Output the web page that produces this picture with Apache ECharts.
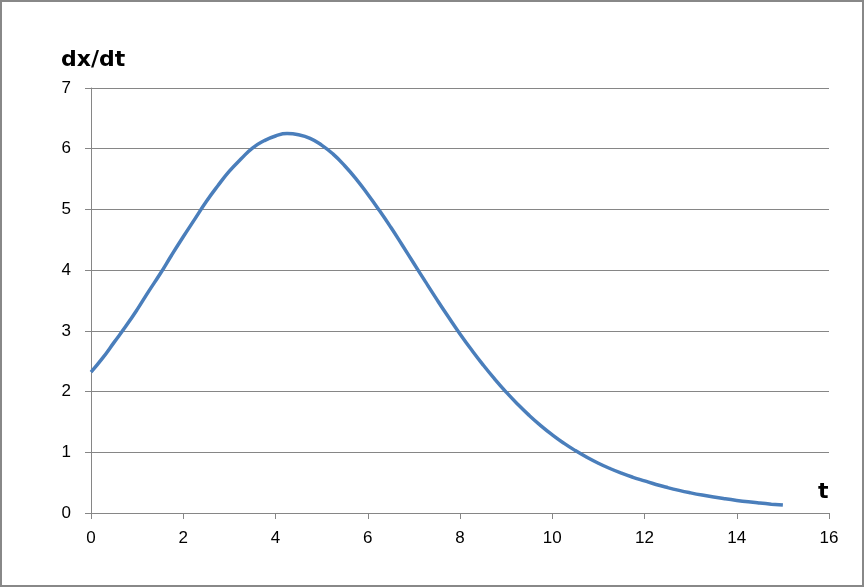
<!DOCTYPE html>
<html>
<head>
<meta charset="utf-8">
<script src="https://cdn.jsdelivr.net/npm/echarts@6/dist/echarts.min.js"></script>
<style>
html,body{margin:0;padding:0;background:#fff;}
#c{width:864px;height:587px;}
</style>
</head>
<body>
<div id="c"></div>
<script>
const tValues = [0,0.25,0.5,0.75,1,1.25,1.5,1.75,2,2.25,2.5,2.75,3,3.25,3.5,3.75,4,4.25,4.5,4.75,5,5.25,5.5,5.75,6,6.25,6.5,6.75,7,7.25,7.5,7.75,8,8.25,8.5,8.75,9,9.25,9.5,9.75,10,10.25,10.5,10.75,11,11.25,11.5,11.75,12,12.25,12.5,12.75,13,13.25,13.5,13.75,14,14.25,14.5,14.75,15];
const dxdtValues = [2.32,2.55,2.81,3.07,3.35,3.65,3.94,4.25,4.55,4.84,5.13,5.39,5.63,5.83,6.01,6.13,6.21,6.25,6.23,6.17,6.06,5.91,5.72,5.50,5.25,4.985,4.705,4.41,4.11,3.81,3.515,3.228,2.95,2.688,2.44,2.208,1.992,1.792,1.608,1.44,1.288,1.151,1.028,0.918,0.82,0.733,0.656,0.588,0.528,0.47,0.419,0.373,0.332,0.295,0.262,0.233,0.207,0.184,0.164,0.146,0.13];
const xTicks = {min:0, max:16, interval:2};
const yTicks = {min:0, max:7, interval:1};
const yTitle = 'dx/dt';
const xTitle = 't';

const chart = echarts.init(document.getElementById('c'));
const axisGray = '#868686';
const font = '"Liberation Sans", Arial, sans-serif';
const titleFont = '"DejaVu Sans", sans-serif';
chart.setOption({
  animation:false,
  grid:{left:91, right:35, top:88, bottom:74},
  xAxis:{
    type:'value', min:xTicks.min, max:xTicks.max, interval:xTicks.interval,
    axisLine:{show:true, onZero:false, lineStyle:{color:axisGray, width:1}},
    axisTick:{show:true, length:6, lineStyle:{color:axisGray}},
    axisLabel:{color:'#000', fontSize:17, fontFamily:font, margin:17},
    splitLine:{show:false}
  },
  yAxis:{
    type:'value', min:yTicks.min, max:yTicks.max, interval:yTicks.interval,
    axisLine:{show:true, lineStyle:{color:axisGray, width:1}},
    axisTick:{show:true, length:6, lineStyle:{color:axisGray}},
    axisLabel:{color:'#000', fontSize:17, fontFamily:font, margin:20},
    splitLine:{show:true, lineStyle:{color:axisGray, width:1}}
  },
  graphic:[
    {type:'rect', shape:{x:1, y:1, width:862, height:585}, style:{fill:'none', stroke:'#888', lineWidth:2}, silent:true},
    {type:'text', left:61, top:49, style:{text:yTitle, font:'bold 22px ' + titleFont, fill:'#000'}},
    {type:'text', left:818, top:481, style:{text:xTitle, font:'bold 22px ' + titleFont, fill:'#000'}}
  ],
  series:[{
    type:'line', smooth:true, showSymbol:false,
    data:tValues.map((t,i)=>[t, dxdtValues[i]]),
    lineStyle:{color:'#4a7ebb', width:3.5},
    itemStyle:{color:'#4a7ebb'}
  }]
});
</script>
</body>
</html>
